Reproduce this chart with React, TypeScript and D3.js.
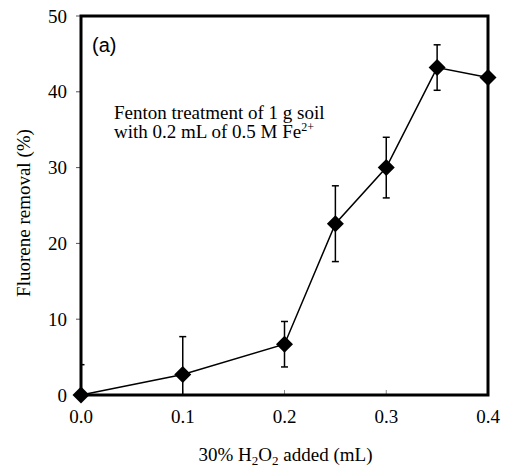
import React from 'react';
import * as d3 from 'd3';

const doses = [0.0, 0.1, 0.2, 0.25, 0.3, 0.35, 0.4];
const removal = [0.0, 2.7, 6.7, 22.6, 30.0, 43.2, 41.9];
const errors = [4.0, 5.0, 3.0, 5.0, 4.0, 3.0, 0];
const xTicks = [0.0, 0.1, 0.2, 0.3, 0.4];
const yTicks = [0, 10, 20, 30, 40, 50];

const W = 506;
const H = 468;
const m = { left: 81, right: 18, top: 16, bottom: 73 };
const serif = '"Liberation Serif", "Times New Roman", serif';

const App: React.FC = () => {
  const x = d3.scaleLinear().domain([0, 0.4]).range([m.left, W - m.right]);
  const y = d3.scaleLinear().domain([0, 50]).range([H - m.bottom, m.top]);
  const line = d3.line<number>().x((_, i) => x(doses[i])).y(d => y(d));
  const diamond = (cx: number, cy: number, r: number) =>
    `M${cx},${cy - r}L${cx + r},${cy}L${cx},${cy + r}L${cx - r},${cy}Z`;
  const [y0, y1] = y.range();

  return (
    <svg width={W} height={H} style={{ position: 'absolute', left: 0, top: 0 }}>
      <rect width={W} height={H} fill="#fff" />
      <defs>
        <clipPath id="plot">
          <rect x={m.left} y={m.top} width={W - m.left - m.right} height={y0 - m.top} />
        </clipPath>
      </defs>

      {/* y ticks, outside */}
      {yTicks.map(t => (
        <g key={t}>
          <line x1={m.left - 5} x2={m.left} y1={y(t)} y2={y(t)} stroke="#555" strokeWidth={1} />
          <text x={m.left - 14} y={y(t)} dy="0.35em" textAnchor="end" fontFamily={serif} fontSize={19}>
            {t}
          </text>
        </g>
      ))}
      {/* x ticks, inside */}
      {xTicks.map(t => (
        <g key={t}>
          <line x1={x(t)} x2={x(t)} y1={y0} y2={y0 - 5} stroke="#888" strokeWidth={1} />
          <text x={x(t)} y={y0 + 28} textAnchor="middle" fontFamily={serif} fontSize={19}>
            {d3.format('.1f')(t)}
          </text>
        </g>
      ))}

      {/* error bars */}
      <g clipPath="url(#plot)" stroke="#000" strokeWidth={1.5}>
        {doses.map((d, i) =>
          errors[i] > 0 ? (
            <g key={i}>
              <line x1={x(d)} x2={x(d)} y1={y(removal[i] - errors[i])} y2={y(removal[i] + errors[i])} />
              <line x1={x(d) - 3.5} x2={x(d) + 3.5} y1={y(removal[i] + errors[i])} y2={y(removal[i] + errors[i])} />
              <line x1={x(d) - 3.5} x2={x(d) + 3.5} y1={y(removal[i] - errors[i])} y2={y(removal[i] - errors[i])} />
            </g>
          ) : null
        )}
      </g>

      <path d={line(removal) || ''} fill="none" stroke="#000" strokeWidth={1.5} />

      {/* frame */}
      <rect x={m.left} y={y1} width={W - m.left - m.right} height={y0 - y1} fill="none" stroke="#000" strokeWidth={3} />

      {doses.map((d, i) => (
        <path key={i} d={diamond(x(d), y(removal[i]), 8.5)} fill="#000" />
      ))}

      <text x={92} y={52} fontFamily='"Liberation Sans", Arial, sans-serif' fontSize={20}>(a)</text>
      <text fontFamily={serif} fontSize={19}>
        <tspan x={114} y={119}>Fenton treatment of 1 g soil</tspan>
        <tspan x={114} y={138}>with 0.2 mL of 0.5 M Fe</tspan>
        <tspan fontSize={12} dy={-7}>2+</tspan>
      </text>

      <text
        transform={`translate(30,213) rotate(-90)`}
        textAnchor="middle"
        fontFamily={serif}
        fontSize={19}
      >
        Fluorene removal (%)
      </text>
      <text x={(m.left + W - m.right) / 2 + 1} y={461} textAnchor="middle" fontFamily={serif} fontSize={19}>
        30% H<tspan fontSize={13} dy={4}>2</tspan>
        <tspan dy={-4}>O</tspan>
        <tspan fontSize={13} dy={4}>2</tspan>
        <tspan dy={-4}> added (mL)</tspan>
      </text>
    </svg>
  );
};

export default App;
